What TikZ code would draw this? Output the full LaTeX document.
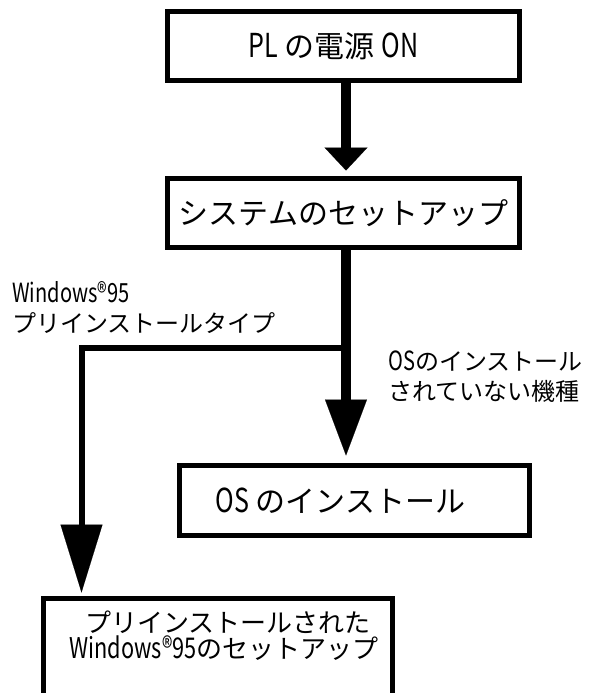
\documentclass[tikz,border=0pt]{standalone}
\usepackage{fontspec}
\setmainfont{Noto Sans CJK JP}
\newfontfamily\latn[FakeStretch=0.76,Scale=1.1]{Noto Sans CJK JP}
\usetikzlibrary{arrows.meta}
\begin{document}
\begin{tikzpicture}[x=1pt,y=-1pt,
  box/.style={draw, line width=5pt, inner sep=0pt, align=center},
  bigtext/.style={font=\fontsize{30}{34}\selectfont},
  lbl/.style={inner sep=0pt, align=left, font=\fontsize{24}{30}\selectfont},
  mainconn/.style={line width=10pt},
  branchconn/.style={line width=6pt},
  tipA/.style={-{Triangle[length=23pt 0 0, width=43pt 0 0, line width=0.1pt 0 0]}},
  tipB/.style={-{Triangle[length=56pt 0 0, width=42pt 0 0, line width=0.1pt 0 0]}},
  tipC/.style={-{Triangle[length=68pt 0 0, width=42pt 0 0, line width=0.1pt 0 0]}}]
\useasboundingbox (0,0) rectangle (595,693);
\fill[white] (0,0) rectangle (595,693);

\node[box, bigtext, minimum width=352pt, minimum height=69pt] (b1) at (343.5,46)
  {{\latn PL} の電源 {\latn ON}\hspace*{20pt}};
\node[box, bigtext, minimum width=352pt, minimum height=69pt] (b2) at (343.5,213)
  {システムのセットアップ};
\node[box, bigtext, minimum width=350pt, minimum height=70pt] (b3) at (354.5,500.5)
  {{\latn OS} のインストール\hspace*{28pt}};
\node[box, minimum width=349pt, minimum height=97pt] (b4) at (218,647) {};
\node[inner sep=0pt, align=center, anchor=north, font=\fontsize{26}{25.5}\selectfont] (b4t) at (224,611)
  {\hspace*{8pt}プリインストールされた\\{\latn Windows®95}のセットアップ};

\coordinate (j) at (346,347.5);
\coordinate (lx) at (81.5,347.5);

\draw[mainconn, tipA, shorten >=5.5pt] (b1.south -| j) -- (b2.north -| j);
\draw[mainconn, tipB, shorten >=7.5pt] (b2.south -| j) -- (b3.north -| j);
\draw[branchconn, tipC, shorten >=3.5pt] (j) -- (lx) -- (b4.north -| lx);

\node[lbl, anchor=north west] (l1) at (12,281)
  {{\latn Windows®95}\\プリインストールタイプ};
\node[lbl, anchor=north west] (l2) at (388,351)
  {{\latn OS}のインストール\\されていない機種};
\end{tikzpicture}
\end{document}
